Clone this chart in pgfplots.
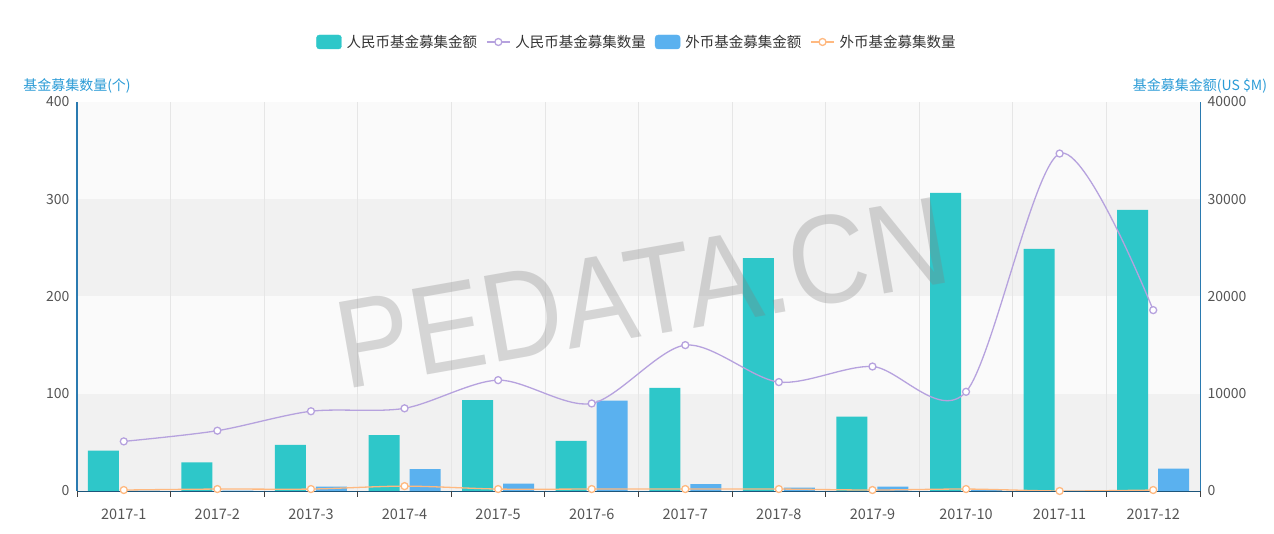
\documentclass[border=0pt]{standalone}
\usepackage{pgfplots}
\pgfplotsset{compat=1.18}
\usepackage{pgfplotstable}
\usepackage{fontspec}
\setmainfont{Noto Sans CJK SC}
\newfontfamily\wmfont{Liberation Sans}
\definecolor{cTeal}{HTML}{2EC7C9}
\definecolor{cPurple}{HTML}{B6A2DE}
\definecolor{cBlue}{HTML}{5AB1EF}
\definecolor{cOrange}{HTML}{FFB980}
\definecolor{bandA}{HTML}{F1F1F1}
\definecolor{bandB}{HTML}{FAFAFA}
\definecolor{gridc}{HTML}{E6E6E6}
\definecolor{axisc}{HTML}{2A7AB0}
\definecolor{labc}{HTML}{2B9BD6}
\definecolor{tickc}{HTML}{555555}
\definecolor{legc}{HTML}{333333}

\pgfplotstableread{
x amtR amtF cntR cntF
0 4150 50 51 1
1 2950 50 62 2
2 4750 450 82 2
3 5750 2250 85 5
4 9350 750 114 2
5 5150 9300 90 2
6 10600 700 150 2
7 23950 350 112 2
8 7650 450 128 1
9 30650 100 102 2
10 24900 50 347 0
11 28900 2300 186 1
}\chartdata

\begin{document}
\begin{tikzpicture}
% amounts: bars, right axis
\begin{axis}[
  at={(77pt,43pt)}, anchor=south west,
  scale only axis, width=1123pt, height=389pt,
  xmin=-0.5, xmax=11.5, ymin=0, ymax=40000,
  axis y line*=right, axis x line*=bottom,
  y axis line style={draw=axisc, line width=1.8pt},
  x axis line style={draw=axisc!70!black, line width=1.4pt},
  xtick={0,1,2,3,4,5,6,7,8,9,10,11},
  xticklabels={2017-1,2017-2,2017-3,2017-4,2017-5,2017-6,2017-7,2017-8,2017-9,2017-10,2017-11,2017-12},
  major x tick style={draw=none},
  extra x ticks={-0.5,0.5,1.5,2.5,3.5,4.5,5.5,6.5,7.5,8.5,9.5,10.5,11.5},
  extra x tick labels={},
  extra x tick style={major tick length=6pt, tick align=outside, major x tick style={draw=black!75, line width=1pt}},
  ytick={0,10000,20000,30000,40000},
  ytick style={draw=none},
  scaled y ticks=false,
  /pgf/number format/assume math mode=true,
  yticklabel style={/pgf/number format/fixed, /pgf/number format/1000 sep={}, font=\fontsize{14pt}{16pt}\selectfont, text=tickc, xshift=4pt},
  xticklabel style={font=\fontsize{14.5pt}{16pt}\selectfont, text=tickc, yshift=-14pt},
  every axis y label/.style={at={(rel axis cs:1,1)}, anchor=center, yshift=16pt, font=\fontsize{14pt}{16pt}\selectfont, text=labc},
  ylabel={基金募集金额(US \$M)},
]
\fill[bandA] (axis cs:-0.5,0) rectangle (axis cs:11.5,10000);
\fill[bandB] (axis cs:-0.5,10000) rectangle (axis cs:11.5,20000);
\fill[bandA] (axis cs:-0.5,20000) rectangle (axis cs:11.5,30000);
\fill[bandB] (axis cs:-0.5,30000) rectangle (axis cs:11.5,40000);
\pgfplotsinvokeforeach{0.5,1.5,2.5,3.5,4.5,5.5,6.5,7.5,8.5,9.5,10.5}{
  \draw[gridc, line width=0.8pt] (axis cs:#1,0) -- (axis cs:#1,40000);
}
\addplot[ybar, bar width=31pt, bar shift=-20.5pt, fill=cTeal, draw=none] table[x=x,y=amtR]{\chartdata};
\addplot[ybar, bar width=31pt, bar shift=20.5pt, fill=cBlue, draw=none] table[x=x,y=amtF]{\chartdata};
\end{axis}
% counts: lines, left axis
\begin{axis}[
  at={(77pt,43pt)}, anchor=south west,
  scale only axis, width=1123pt, height=389pt,
  xmin=-0.5, xmax=11.5, ymin=0, ymax=400,
  axis x line=none, xtick=\empty,
  axis y line*=left,
  y axis line style={draw=axisc, line width=1.8pt},
  ytick={0,100,200,300,400},
  ytick style={draw=none},
  /pgf/number format/assume math mode=true,
  yticklabel style={font=\fontsize{14pt}{16pt}\selectfont, text=tickc, xshift=-4pt},
  every axis y label/.style={at={(rel axis cs:0,1)}, anchor=center, yshift=16pt, font=\fontsize{14pt}{16pt}\selectfont, text=labc},
  ylabel={基金募集数量(个)},
  legend columns=4,
  legend style={at={(0.5,1)}, anchor=center, yshift=60pt, draw=none, fill=none,
    font=\fontsize{14.5pt}{16pt}\selectfont, text=legc,
    nodes={inner xsep=5pt},
    /tikz/every even column/.append style={column sep=4pt}},
]
\addplot[forget plot, cPurple, line width=1.3pt, smooth, tension=0.5, mark=*, mark size=3.5pt,
  mark options={fill=white, draw=cPurple, line width=1.3pt}] table[x=x,y=cntR]{\chartdata};
\addplot[forget plot, cOrange, line width=1.3pt, smooth, tension=0.5, mark=*, mark size=3.5pt,
  mark options={fill=white, draw=cOrange, line width=1.3pt}] table[x=x,y=cntF]{\chartdata};
\addlegendimage{legend image code/.code={\fill[cTeal, rounded corners=3pt] (0pt,-7pt) rectangle (25pt,7pt);}}
\addlegendentry{人民币基金募集金额}
\addlegendimage{legend image code/.code={\draw[cPurple, line width=1.3pt] (0pt,0pt) -- (23pt,0pt); \draw[cPurple, fill=white, line width=1.3pt] (11.5pt,0pt) circle (3.5pt);}}
\addlegendentry{人民币基金募集数量}
\addlegendimage{legend image code/.code={\fill[cBlue, rounded corners=3pt] (0pt,-7pt) rectangle (25pt,7pt);}}
\addlegendentry{外币基金募集金额}
\addlegendimage{legend image code/.code={\draw[cOrange, line width=1.3pt] (0pt,0pt) -- (23pt,0pt); \draw[cOrange, fill=white, line width=1.3pt] (11.5pt,0pt) circle (3.5pt);}}
\addlegendentry{外币基金募集数量}
\end{axis}
\node[rotate=10, xscale=0.88, text=gray, text opacity=0.3, font=\wmfont\fontsize{126pt}{126pt}\selectfont] at (642pt,241pt) {PEDATA.CN};
\path[use as bounding box] (0,0) rectangle (1274pt,534pt);
\end{tikzpicture}
\end{document}
